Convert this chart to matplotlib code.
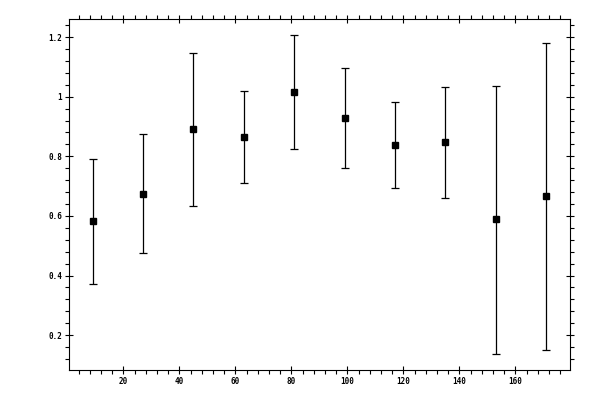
import numpy as np
import matplotlib
matplotlib.use("Agg")
import matplotlib.pyplot as plt
from matplotlib.ticker import MultipleLocator

# data
x = [9, 27, 45, 63, 81, 99, 117, 135, 153, 171]
y = [0.582, 0.672, 0.891, 0.864, 1.015, 0.928, 0.837, 0.847, 0.588, 0.666]
y_upper = [0.790, 0.874, 1.146, 1.018, 1.207, 1.096, 0.983, 1.032, 1.035, 1.180]
y_lower = [0.370, 0.476, 0.632, 0.709, 0.825, 0.761, 0.692, 0.659, 0.138, 0.151]

y_arr = np.array(y)
yerr = [y_arr - np.array(y_lower), np.array(y_upper) - y_arr]

fig = plt.figure(figsize=(6, 4), dpi=100)
ax = fig.add_axes([0.1155, 0.075, 0.835, 0.877])

ax.errorbar(x, y, yerr=yerr, fmt='s', color='black', ms=5, mec='black',
            elinewidth=0.9, capsize=3.2, capthick=0.9)

ax.set_xlim(0.7, 179.6)
ax.set_ylim(0.083, 1.26)

ax.xaxis.set_major_locator(MultipleLocator(20))
ax.xaxis.set_minor_locator(MultipleLocator(4))
ax.yaxis.set_major_locator(MultipleLocator(0.2))
ax.yaxis.set_minor_locator(MultipleLocator(0.04))

def fmt(v, pos):
    s = ('%.1f' % v).rstrip('0').rstrip('.')
    return s

ax.xaxis.set_major_formatter(plt.FuncFormatter(lambda v, p: '%d' % v))
ax.yaxis.set_major_formatter(plt.FuncFormatter(fmt))

ax.tick_params(which='major', direction='inout', length=6, width=0.8,
               top=True, right=True, labelsize=5.5, pad=2)
ax.tick_params(which='minor', direction='out', length=2.6, width=0.8,
               top=True, right=True)
for lab in ax.get_xticklabels() + ax.get_yticklabels():
    lab.set_family('DejaVu Sans Mono')
    lab.set_fontweight('bold')
for sp in ax.spines.values():
    sp.set_linewidth(0.8)

fig.savefig('out.png', dpi=100)
